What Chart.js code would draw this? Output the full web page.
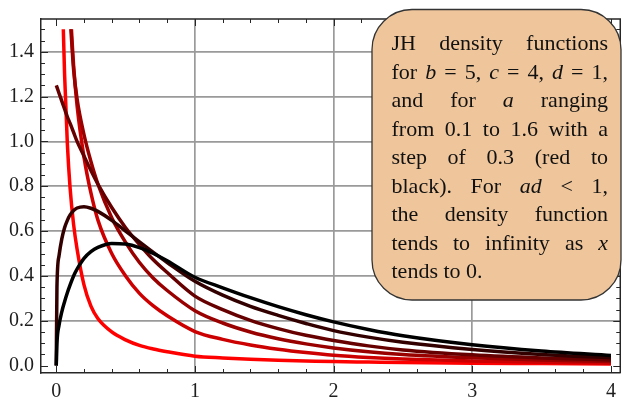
<!DOCTYPE html>
<html>
<head>
<meta charset="utf-8">
<script src="https://cdn.jsdelivr.net/npm/chart.js@4.4.1/dist/chart.umd.min.js"></script>
<style>
  html, body { margin: 0; padding: 0; background: #fff; }
  #wrap { width: 623px; height: 403px; }
</style>
</head>
<body>
<div id="wrap"><canvas id="jhChart"></canvas></div>
<script>
const xValues = [0, 0.005, 0.02, 0.04, 0.06, 0.08, 0.1, 0.125, 0.15, 0.2, 0.25, 0.3, 0.4, 0.5, 0.6, 0.7, 0.8,
                 1.0, 1.2, 1.4, 1.6, 1.8, 2.0, 2.25, 2.5, 3.0, 3.5, 4.0];

// JH densities, b = 5, c = 4, d = 1 (null = not drawn there)
const densA01 = [null, null, null, 1.75, 1.3, 0.99, 0.79, 0.63, 0.52, 0.36, 0.265, 0.21, 0.15, 0.115, 0.09, 0.074, 0.062,
                 0.042, 0.034, 0.028, 0.024, 0.021, 0.018, 0.016, 0.014, 0.011, 0.009, 0.007];
const densA04 = [null, null, null, null, null, 1.95, 1.62, 1.34, 1.16, 0.93, 0.77, 0.65, 0.5, 0.4, 0.322, 0.266, 0.222,
                 0.152, 0.117, 0.092, 0.073, 0.058, 0.046, 0.036, 0.029, 0.02, 0.015, 0.011];
const densA07 = [null, null, null, null, 1.85, 1.7, 1.55, 1.32, 1.19, 1.03, 0.91, 0.81, 0.66, 0.55, 0.46, 0.39, 0.335,
                 0.245, 0.19, 0.15, 0.12, 0.097, 0.079, 0.062, 0.05, 0.035, 0.025, 0.018];
const densA10 = [1.25, 1.242, 1.215, 1.18, 1.145, 1.11, 1.08, 1.04, 1.0, 0.935, 0.87, 0.81, 0.705, 0.615, 0.54, 0.472, 0.415,
                 0.31, 0.25, 0.202, 0.165, 0.135, 0.112, 0.088, 0.07, 0.048, 0.034, 0.025];
const densA13 = [0, 0.35, 0.49, 0.565, 0.615, 0.648, 0.672, 0.692, 0.703, 0.709, 0.702, 0.688, 0.648, 0.6, 0.552, 0.505, 0.46,
                 0.376, 0.314, 0.264, 0.224, 0.188, 0.156, 0.127, 0.104, 0.072, 0.05, 0.035];
const densA16 = [0, 0.1, 0.18, 0.24, 0.285, 0.325, 0.36, 0.4, 0.43, 0.478, 0.508, 0.527, 0.545, 0.542, 0.526, 0.5, 0.468,
                 0.394, 0.347, 0.303, 0.263, 0.227, 0.195, 0.161, 0.133, 0.093, 0.065, 0.045];

const aLabels = ['a = 0.1', 'a = 0.4', 'a = 0.7', 'a = 1.0', 'a = 1.3', 'a = 1.6'];
const xTicks = [0, 1, 2, 3, 4];
const yTicks = [0, 0.2, 0.4, 0.6, 0.8, 1.0, 1.2, 1.4];

const series = [densA01, densA04, densA07, densA10, densA13, densA16];
const lineColors = ['rgb(255,0,0)', 'rgb(204,0,0)', 'rgb(153,0,0)', 'rgb(102,0,0)', 'rgb(51,0,0)', 'rgb(0,0,0)'];
const serif = '"Liberation Serif", "Times New Roman", serif';
const gridColor = '#9a9a9a';
const frameColor = '#262626';
const curveTop = 1.5; // curves are cut at the plot range, frame has some padding above

// annotation text, *word* = italic
const boxLines = [
    ['JH', 'density', 'functions'],
    ['for', '*b*', '=', '5,', '*c*', '=', '4,', '*d*', '=', '1,'],
    ['and', 'for', '*a*', 'ranging'],
    ['from', '0.1', 'to', '1.6', 'with', 'a'],
    ['step', 'of', '0.3', '(red', 'to'],
    ['black).', 'For', '*ad*', '<', '1,'],
    ['the', 'density', 'function'],
    ['tends', 'to', 'infinity', 'as', '*x*'],
    ['tends', 'to', '0.']
];

const clipTop = {
    id: 'clipTop',
    beforeDatasetsDraw(chart) {
        const { ctx, chartArea: a, scales: { y } } = chart;
        const t = y.getPixelForValue(curveTop);
        ctx.save();
        ctx.beginPath();
        ctx.rect(a.left, t, a.right - a.left, a.bottom - t);
        ctx.clip();
    },
    afterDatasetsDraw(chart) {
        chart.ctx.restore();
    }
};

const frameTicks = {
    id: 'frameTicks',
    afterDatasetsDraw(chart) {
        const { ctx, chartArea: a, scales: { x, y } } = chart;
        ctx.save();
        ctx.strokeStyle = frameColor;
        ctx.lineWidth = 1.5;
        ctx.beginPath();
        ctx.moveTo(a.left, a.top);
        ctx.lineTo(a.right, a.top);
        ctx.lineTo(a.right, a.bottom);
        ctx.stroke();

        ctx.lineWidth = 1;
        ctx.beginPath();
        for (let i = 0; i <= 20; i++) {
            const px = Math.round(x.getPixelForValue(i * 0.2)) + 0.5;
            const len = i % 5 === 0 ? 7 : 4;
            ctx.moveTo(px, a.bottom); ctx.lineTo(px, a.bottom - len);
            ctx.moveTo(px, a.top); ctx.lineTo(px, a.top + len);
        }
        for (let i = 0; i <= 30; i++) {
            const py = Math.round(y.getPixelForValue(i * 0.05)) + 0.5;
            const len = i % 4 === 0 ? 7 : 4;
            ctx.moveTo(a.left, py); ctx.lineTo(a.left + len, py);
            ctx.moveTo(a.right, py); ctx.lineTo(a.right - len, py);
        }
        ctx.stroke();
        ctx.restore();
    }
};

const noteBox = {
    id: 'noteBox',
    afterDraw(chart) {
        const ctx = chart.ctx;
        ctx.save();
        ctx.beginPath();
        ctx.roundRect(372, 9.5, 249, 290.5, 40);
        ctx.fillStyle = '#efc69c';
        ctx.fill();
        ctx.strokeStyle = '#333';
        ctx.lineWidth = 1.3;
        ctx.stroke();

        const left = 391.5, right = 608, size = 22;
        ctx.fillStyle = '#111';
        ctx.textBaseline = 'alphabetic';
        const fontFor = w => (w.startsWith('*') ? 'italic ' : '') + size + 'px ' + serif;
        const clean = w => w.replace(/\*/g, '');
        boxLines.forEach((words, li) => {
            const widths = words.map(w => { ctx.font = fontFor(w); return ctx.measureText(clean(w)).width; });
            const total = widths.reduce((s, v) => s + v, 0);
            const last = li === boxLines.length - 1;
            ctx.font = fontFor('');
            const gap = last ? ctx.measureText(' ').width : (right - left - total) / (words.length - 1);
            let cx = left;
            const base = 50 + li * 28.5;
            words.forEach((w, k) => {
                ctx.font = fontFor(w);
                ctx.fillText(clean(w), cx, base);
                cx += widths[k] + gap;
            });
        });
        ctx.restore();
    }
};

const ctx = document.getElementById('jhChart').getContext('2d');
new Chart(ctx, {
    type: 'line',
    data: {
        datasets: series.map((ys, i) => ({
            label: aLabels[i],
            data: xValues.map((x, j) => ({ x: x, y: ys[j] })),
            borderColor: lineColors[i],
            borderWidth: 3.5,
            pointRadius: 0,
            fill: false,
            cubicInterpolationMode: 'monotone',
            order: series.length - i
        }))
    },
    options: {
        responsive: true,
        maintainAspectRatio: false,
        animation: false,
        layout: { padding: { top: 10, right: 2, left: 0, bottom: 0 } },
        plugins: {
            legend: { display: false },
            tooltip: { enabled: false }
        },
        scales: {
            x: {
                type: 'linear',
                min: -0.11,
                max: 4.067,
                afterBuildTicks: s => { s.ticks = xTicks.map(v => ({ value: v })); },
                afterFit: s => { s.height = 30; },
                ticks: {
                    callback: v => String(v),
                    font: { family: serif, size: 20 },
                    color: '#1e1e1e',
                    padding: 7,
                    maxRotation: 0,
                    autoSkip: false
                },
                grid: {
                    drawTicks: false,
                    lineWidth: 1.7,
                    color: c => (c.tick && c.tick.value > 0 && c.tick.value < 4) ? gridColor : 'rgba(0,0,0,0)'
                },
                border: { display: true, color: frameColor, width: 1.5 }
            },
            y: {
                min: -0.033,
                max: 1.546,
                afterBuildTicks: s => { s.ticks = yTicks.map(v => ({ value: v })); },
                afterFit: s => { s.width = 41; },
                ticks: {
                    callback: v => v.toFixed(1),
                    font: { family: serif, size: 20 },
                    color: '#1e1e1e',
                    padding: 7,
                    autoSkip: false
                },
                grid: {
                    drawTicks: false,
                    lineWidth: 1.7,
                    color: c => (c.tick && c.tick.value > 0) ? gridColor : 'rgba(0,0,0,0)'
                },
                border: { display: true, color: frameColor, width: 1.5 }
            }
        }
    },
    plugins: [clipTop, frameTicks, noteBox]
});
</script>
</body>
</html>
